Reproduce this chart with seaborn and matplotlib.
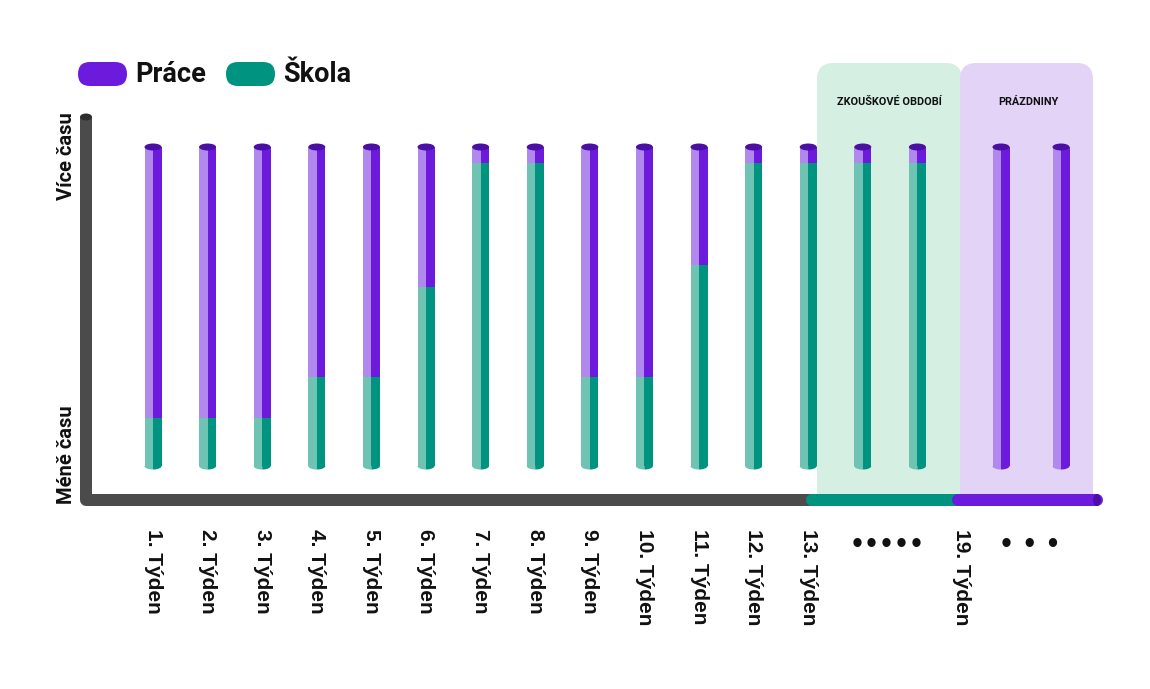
import numpy as np
import pandas as pd
import matplotlib
matplotlib.use("Agg")
import matplotlib.pyplot as plt
import seaborn as sns
from matplotlib.patches import Ellipse, Polygon, FancyBboxPatch, Rectangle

# ---------------- data ----------------
weeks = ["1. Týden", "2. Týden", "3. Týden", "4. Týden", "5. Týden", "6. Týden",
         "7. Týden", "8. Týden", "9. Týden", "10. Týden", "11. Týden", "12. Týden",
         "13. Týden", "14", "15", "P1", "P2"]
skola = [1.5, 1.5, 1.5, 2.8, 2.8, 5.6, 9.5, 9.5, 2.8, 2.8, 6.3, 9.5, 9.5, 9.5, 9.5, 0.0, 0.0]
prace = [8.5, 8.5, 8.5, 7.2, 7.2, 4.4, 0.5, 0.5, 7.2, 7.2, 3.7, 0.5, 0.5, 0.5, 0.5, 10.0, 10.0]
tick_labels = ["1. Týden", "2. Týden", "3. Týden", "4. Týden", "5. Týden", "6. Týden",
               "7. Týden", "8. Týden", "9. Týden", "10. Týden", "11. Týden", "12. Týden",
               "13. Týden", "•••••", "19. Týden", "• • •"]
legend_labels = ["Práce", "Škola"]
period_labels = ["ZKOUŠKOVÉ OBDOBÍ", "PRÁZDNINY"]
y_labels = ["Více času", "Méně času"]

# ---------------- style ----------------
sns.set_theme(style="white")
plt.rcParams["font.family"] = ["Roboto", "DejaVu Sans"]

PUR_D, PUR_L, PUR_T = "#6c1bdc", "#b088ee", "#4c0fa6"
TEAL_D, TEAL_L = "#009480", "#6fc3b3"
GREY = "#4b4b4b"
GREEN_BG, PURP_BG = "#d5f0e3", "#e2d3f7"
INK = "#111111"

W, H = 1150, 689
fig = plt.figure(figsize=(W / 100, H / 100), dpi=100)
ax = fig.add_axes([0, 0, 1, 1])

X0, DX = 153.0, 54.6   # pixel of first bar, spacing
Y0, DY = 466.0, 31.9   # pixel of value 0, pixels per unit

def px(p):
    return (p - X0) / DX

def py(p):
    return (Y0 - p) / DY

ax.set_xlim(px(0), px(W))
ax.set_ylim(py(H), py(0))
ax.axis("off")

# bar positions (holiday bars are set a bit wider apart)
pos = np.array(list(range(15)) + [px(1001), px(1061)])
df = pd.DataFrame({"pos": pos, "skola": skola, "prace": prace})
df["total"] = df["skola"] + df["prace"]

# ---------------- background periods ----------------
def period_box(x0, x1, color):
    ax.add_patch(FancyBboxPatch((px(x0), py(300)), px(x1) - px(x0), py(63) - py(300),
                                boxstyle="round,pad=0,rounding_size=0.3",
                                mutation_aspect=DX / DY,
                                fc=color, ec="none", zorder=0))
    ax.add_patch(Rectangle((px(x0), py(500)), px(x1) - px(x0), py(280) - py(500),
                           fc=color, ec="none", zorder=0))

period_box(817, 962, GREEN_BG)
period_box(960, 1093, PURP_BG)
ax.text(px(889), py(102), period_labels[0], ha="center", va="center",
        fontsize=7.8, fontweight="bold", color=INK)
ax.text(px(1028), py(102), period_labels[1], ha="center", va="center",
        fontsize=7.8, fontweight="bold", color=INK)

# ---------------- cylinders ----------------
w = 17 / DX
half = w / 2
# left (light) halves
ax.bar(df["pos"] - half / 2, df["skola"], width=half, color=TEAL_L, zorder=2, linewidth=0)
ax.bar(df["pos"] - half / 2, df["prace"], bottom=df["skola"], width=half, color=PUR_L, zorder=2, linewidth=0)
# right (dark) halves
ax.bar(df["pos"] + half / 2, df["skola"], width=half, color=TEAL_D, zorder=2, linewidth=0)
ax.bar(df["pos"] + half / 2, df["prace"], bottom=df["skola"], width=half, color=PUR_D, zorder=2, linewidth=0)

eh = 7 / DY
for _, r in df.iterrows():
    ax.add_patch(Ellipse((r["pos"], r["total"]), w, eh, fc=PUR_T, ec="none", zorder=3))
    lc, dc = (TEAL_L, TEAL_D) if r["skola"] > 0 else (PUR_L, PUR_D)
    t1 = np.linspace(np.pi, 1.5 * np.pi, 20)
    t2 = np.linspace(1.5 * np.pi, 2 * np.pi, 20)
    p1 = [(r["pos"], 0)] + [(r["pos"] + half * np.cos(t), eh / 2 * np.sin(t)) for t in t1]
    p2 = [(r["pos"], 0)] + [(r["pos"] + half * np.cos(t), eh / 2 * np.sin(t)) for t in t2]
    ax.add_patch(Polygon(p1, closed=True, fc=lc, ec="none", zorder=2))
    ax.add_patch(Polygon(p2, closed=True, fc=dc, ec="none", zorder=2))

# ---------------- axes lines ----------------
lw = 12 * 72 / 100
ax.plot([px(86), px(86), px(812)], [py(117), py(500), py(500)], color=GREY, lw=lw,
        solid_joinstyle="round", solid_capstyle="butt", zorder=4)
ax.add_patch(Ellipse((px(86), py(117)), 12 / DX, 7 / DY, fc="#2e2e2e", ec="none", zorder=5))
ax.plot([px(812), px(958)], [py(500), py(500)], color=TEAL_D, lw=lw,
        solid_capstyle="round", zorder=5)
ax.plot([px(958), px(1097)], [py(500), py(500)], color=PUR_D, lw=lw,
        solid_capstyle="round", zorder=6)
ax.add_patch(Ellipse((px(1097), py(500)), 8 / DX, 12 / DY, fc=PUR_T, ec="none", zorder=7))

# ---------------- y labels ----------------
ax.text(px(67), py(156), y_labels[0], rotation=90, ha="center", va="center",
        fontsize=14.5, fontweight="bold", color=INK)
ax.text(px(67), py(455), y_labels[1], rotation=90, ha="center", va="center",
        fontsize=14.5, fontweight="bold", color=INK)

# ---------------- x labels ----------------
label_x = list(df["pos"][:13]) + [px(887), px(962), px(1030)]
for lx, lab in zip(label_x, tick_labels):
    if lab.startswith("•"):
        ax.text(lx, py(545), lab, ha="center", va="center", fontsize=17,
                fontweight="bold", color=INK, family=["DejaVu Sans"])
    else:
        ax.text(lx, py(529), lab, rotation=-90, ha="center", va="top",
                fontsize=15, fontweight="bold", color=INK, family=["Liberation Sans"])

# ---------------- legend ----------------
for x0, col, lab in [(78, PUR_D, legend_labels[0]), (226, TEAL_D, legend_labels[1])]:
    ph = 24
    ax.add_patch(FancyBboxPatch((px(x0), py(62 + ph)), px(x0 + 49) - px(x0), py(62) - py(62 + ph),
                                boxstyle=f"round,pad=0,rounding_size={ph / 2 / DX:.4f}",
                                mutation_aspect=DX / DY,
                                fc=col, ec="none", zorder=3))
    ax.text(px(x0 + 57), py(75), lab, ha="left", va="center", fontsize=19.5,
            fontweight="bold", color=INK)

fig.savefig("out.png", dpi=100)
